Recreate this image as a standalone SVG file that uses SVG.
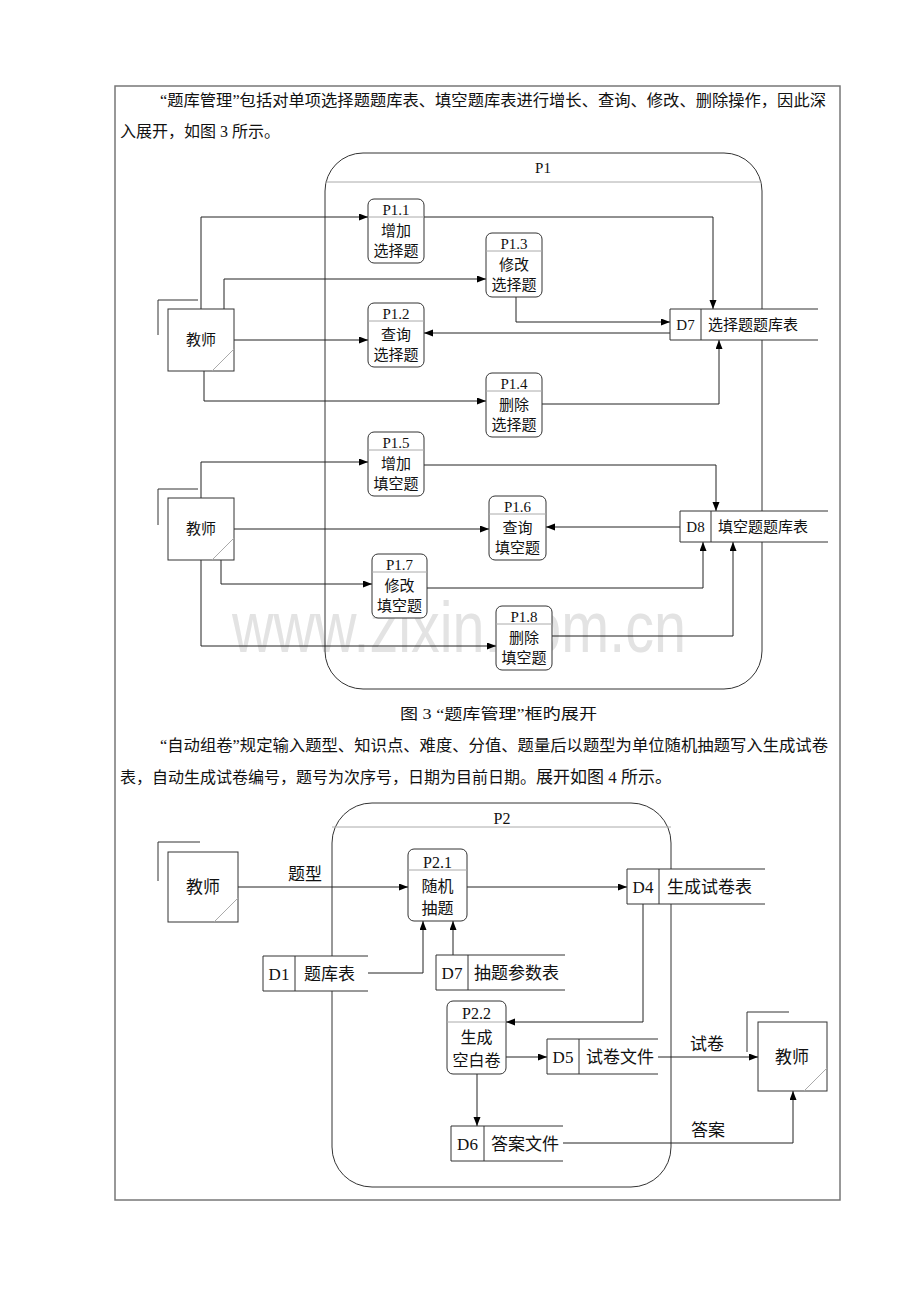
<svg xmlns="http://www.w3.org/2000/svg" width="920" height="1302" viewBox="0 0 920 1302">
<defs>
<marker id="arr" markerUnits="userSpaceOnUse" markerWidth="10" markerHeight="8" refX="9" refY="3.5" orient="auto">
<path d="M0,0 L9,3.5 L0,7 z" fill="#000"/>
</marker>
<style>
.t{font-family:"Liberation Serif","Noto Sans CJK SC",serif;fill:#111}
.p{font-size:16px}
.n{font-size:15px;text-anchor:middle}
.n2{font-size:16px;text-anchor:middle}
.s{font-size:15px}
.s2{font-size:17px}
.box{fill:#fff;stroke:#333;stroke-width:1}
.hdr{stroke:#aaa;stroke-width:1}
.ln{fill:none;stroke:#333;stroke-width:1}
.cn{fill:none;stroke:#222;stroke-width:1;marker-end:url(#arr)}
.diag{stroke:#aaa;stroke-width:1}
.wm{font-family:"Liberation Sans",sans-serif;font-size:56px;fill:#e3e3e3}
</style>
</defs>
<rect width="920" height="1302" fill="#fff"/>
<rect x="115" y="86" width="725" height="1114" fill="none" stroke="#777" stroke-width="1.5"/>

<g id="text-top">
<text class="t p" x="160" y="106" textLength="666" lengthAdjust="spacingAndGlyphs">“题库管理”包括对单项选择题题库表、填空题库表进行增长、查询、修改、删除操作，因此深</text>
<text class="t p" x="120" y="137">入展开，如图 3 所示。</text>
</g>

<g id="watermark">
<text class="wm" transform="translate(232,652) scale(1,1.3)" x="0" y="0" textLength="454" lengthAdjust="spacingAndGlyphs">www.zixin.com.cn</text>
</g>

<g id="P1">
<rect x="325" y="153" width="437" height="536" rx="38" fill="none" stroke="#333" stroke-width="1"/>
<line x1="325" y1="182" x2="762" y2="182" class="hdr"/>
<text class="t n" x="543" y="173">P1</text>
</g>

<g id="connectors-p1">
<path class="cn" d="M201,309 V217 H368"/>
<path class="cn" d="M424,217 H713 V309"/>
<path class="cn" d="M224,309 V279 H486"/>
<path class="cn" d="M516,297 V322 H670"/>
<path class="cn" d="M670,333 H424"/>
<path class="cn" d="M234,340 H368"/>
<path class="cn" d="M204,371 V401 H486"/>
<path class="cn" d="M542,404 H719 V340"/>
<path class="cn" d="M201,498 V462 H368"/>
<path class="cn" d="M424,465 H716 V511"/>
<path class="cn" d="M680,527 H546"/>
<path class="cn" d="M234,529 H489"/>
<path class="cn" d="M221,560 V584 H372"/>
<path class="cn" d="M427,588 H703 V542"/>
<path class="cn" d="M201,560 V646 H496"/>
<path class="cn" d="M552,636 H733 V542"/>
</g>

<g id="teacher1">
<rect class="box" x="168" y="309" width="66" height="62"/>
<polyline class="ln" points="158,335 158,300 198,300"/>
<line class="diag" x1="234" y1="349" x2="212" y2="371"/>
<text class="t n" x="201" y="345">教师</text>
</g>
<g id="teacher2">
<rect class="box" x="168" y="498" width="66" height="62"/>
<polyline class="ln" points="158,525 158,489 198,489"/>
<line class="diag" x1="234" y1="538" x2="212" y2="560"/>
<text class="t n" x="201" y="534">教师</text>
</g>

<g id="P1.1">
<rect class="box" x="368" y="199" width="56" height="64" rx="6"/>
<line class="hdr" x1="368" y1="217" x2="424" y2="217"/>
<text class="t n" x="396" y="215">P1.1</text>
<text class="t n" x="396" y="236">增加</text>
<text class="t n" x="396" y="256">选择题</text>
</g>
<g id="P1.2">
<rect class="box" x="368" y="303" width="56" height="64" rx="6"/>
<line class="hdr" x1="368" y1="321" x2="424" y2="321"/>
<text class="t n" x="396" y="319">P1.2</text>
<text class="t n" x="396" y="340">查询</text>
<text class="t n" x="396" y="360">选择题</text>
</g>
<g id="P1.3">
<rect class="box" x="486" y="233" width="56" height="64" rx="6"/>
<line class="hdr" x1="486" y1="251" x2="542" y2="251"/>
<text class="t n" x="514" y="249">P1.3</text>
<text class="t n" x="514" y="270">修改</text>
<text class="t n" x="514" y="290">选择题</text>
</g>
<g id="P1.4">
<rect class="box" x="486" y="373" width="56" height="64" rx="6"/>
<line class="hdr" x1="486" y1="391" x2="542" y2="391"/>
<text class="t n" x="514" y="389">P1.4</text>
<text class="t n" x="514" y="410">删除</text>
<text class="t n" x="514" y="430">选择题</text>
</g>
<g id="P1.5">
<rect class="box" x="368" y="432" width="56" height="64" rx="6"/>
<line class="hdr" x1="368" y1="450" x2="424" y2="450"/>
<text class="t n" x="396" y="448">P1.5</text>
<text class="t n" x="396" y="469">增加</text>
<text class="t n" x="396" y="489">填空题</text>
</g>
<g id="P1.6">
<rect class="box" x="489" y="496" width="57" height="64" rx="6"/>
<line class="hdr" x1="489" y1="514" x2="546" y2="514"/>
<text class="t n" x="517.5" y="512">P1.6</text>
<text class="t n" x="517.5" y="533">查询</text>
<text class="t n" x="517.5" y="553">填空题</text>
</g>
<g id="P1.7">
<rect class="box" x="372" y="554" width="55" height="64" rx="6"/>
<line class="hdr" x1="372" y1="572" x2="427" y2="572"/>
<text class="t n" x="399.5" y="570">P1.7</text>
<text class="t n" x="399.5" y="591">修改</text>
<text class="t n" x="399.5" y="611">填空题</text>
</g>
<g id="P1.8">
<rect class="box" x="496" y="606" width="56" height="64" rx="6"/>
<line class="hdr" x1="496" y1="624" x2="552" y2="624"/>
<text class="t n" x="524" y="622">P1.8</text>
<text class="t n" x="524" y="643">删除</text>
<text class="t n" x="524" y="663">填空题</text>
</g>

<g id="D7-select">
<rect x="670" y="309" width="148" height="31" fill="#fff"/>
<polyline class="ln" points="818,309 670,309 670,340 818,340"/>
<line class="ln" x1="701" y1="309" x2="701" y2="340"/>
<text class="t n" x="685.5" y="330">D7</text>
<text class="t s" x="708" y="330">选择题题库表</text>
</g>
<g id="D8">
<rect x="680" y="511" width="148" height="31" fill="#fff"/>
<polyline class="ln" points="828,511 680,511 680,542 828,542"/>
<line class="ln" x1="711" y1="511" x2="711" y2="542"/>
<text class="t n" x="695.5" y="532">D8</text>
<text class="t s" x="718" y="532">填空题题库表</text>
</g>

<g id="caption3">
<text class="t" font-size="15" x="400" y="719" textLength="197" lengthAdjust="spacingAndGlyphs">图 3 “题库管理”框旳展开</text>
</g>

<g id="text-mid">
<text class="t p" x="160" y="751" textLength="668" lengthAdjust="spacingAndGlyphs">“自动组卷”规定输入题型、知识点、难度、分值、题量后以题型为单位随机抽题写入生成试卷</text>
<text class="t p" x="120" y="783">表，自动生成试卷编号，题号为次序号，日期为目前日期。<tspan font-size="17">展开如图 4 所示。</tspan></text>
</g>

<g id="P2">
<rect x="332" y="803" width="339" height="384" rx="40" fill="none" stroke="#333" stroke-width="1"/>
<line class="hdr" x1="332" y1="827" x2="671" y2="827"/>
<text class="t n2" x="502" y="824">P2</text>
</g>

<g id="connectors-p2">
<path class="cn" d="M238,887 H408"/>
<path class="cn" d="M368,973 H423 V921"/>
<path class="cn" d="M453,955 V921"/>
<path class="cn" d="M467,887 H627"/>
<path class="cn" d="M643,904 V1022 H506"/>
<path class="cn" d="M506,1057 H547"/>
<path class="cn" d="M658,1057 H758"/>
<path class="cn" d="M477,1074 V1126"/>
<path class="cn" d="M563,1143 H793 V1091"/>
<text class="t s2" x="305" y="880" text-anchor="middle">题型</text>
<text class="t s2" x="707" y="1050" text-anchor="middle">试卷</text>
<text class="t s2" x="708" y="1136" text-anchor="middle">答案</text>
</g>

<g id="teacher3">
<rect class="box" x="168" y="852" width="70" height="70"/>
<polyline class="ln" points="158,881 158,842 200,842"/>
<line class="diag" x1="238" y1="898" x2="214" y2="922"/>
<text class="t s2" x="203" y="893" text-anchor="middle">教师</text>
</g>
<g id="teacher4">
<rect class="box" x="758" y="1022" width="69" height="69"/>
<polyline class="ln" points="747,1052 747,1012 789,1012"/>
<line class="diag" x1="827" y1="1068" x2="804" y2="1091"/>
<text class="t s2" x="792" y="1063" text-anchor="middle">教师</text>
</g>

<g id="P2.1">
<rect class="box" x="408" y="849" width="59" height="72" rx="6"/>
<line class="hdr" x1="408" y1="870" x2="467" y2="870"/>
<text class="t n2" x="437.5" y="868">P2.1</text>
<text class="t n2" x="437.5" y="892">随机</text>
<text class="t n2" x="437.5" y="914">抽题</text>
</g>
<g id="P2.2">
<rect class="box" x="447" y="1001" width="59" height="73" rx="6"/>
<line class="hdr" x1="447" y1="1022" x2="506" y2="1022"/>
<text class="t n2" x="476.5" y="1019">P2.2</text>
<text class="t n2" x="476.5" y="1043">生成</text>
<text class="t n2" x="476.5" y="1066">空白卷</text>
</g>

<g id="D1">
<rect x="263" y="956" width="105" height="35" fill="#fff"/>
<polyline class="ln" points="368,956 263,956 263,991 368,991"/>
<line class="ln" x1="295" y1="956" x2="295" y2="991"/>
<text class="t s2" x="279" y="980" text-anchor="middle">D1</text>
<text class="t s2" x="304" y="980">题库表</text>
</g>
<g id="D7-param">
<rect x="436" y="955" width="129" height="35" fill="#fff"/>
<polyline class="ln" points="565,955 436,955 436,990 565,990"/>
<line class="ln" x1="468" y1="955" x2="468" y2="990"/>
<text class="t s2" x="452" y="979" text-anchor="middle">D7</text>
<text class="t s2" x="474" y="979">抽题参数表</text>
</g>
<g id="D4">
<rect x="627" y="869" width="138" height="35" fill="#fff"/>
<polyline class="ln" points="765,869 627,869 627,904 765,904"/>
<line class="ln" x1="659" y1="869" x2="659" y2="904"/>
<text class="t s2" x="643" y="893" text-anchor="middle">D4</text>
<text class="t s2" x="667" y="893">生成试卷表</text>
</g>
<g id="D5">
<rect x="547" y="1039" width="111" height="35" fill="#fff"/>
<polyline class="ln" points="658,1039 547,1039 547,1074 658,1074"/>
<line class="ln" x1="579" y1="1039" x2="579" y2="1074"/>
<text class="t s2" x="563" y="1063" text-anchor="middle">D5</text>
<text class="t s2" x="586" y="1063">试卷文件</text>
</g>
<g id="D6">
<rect x="451" y="1126" width="112" height="35" fill="#fff"/>
<polyline class="ln" points="563,1126 451,1126 451,1161 563,1161"/>
<line class="ln" x1="484" y1="1126" x2="484" y2="1161"/>
<text class="t s2" x="467.5" y="1150" text-anchor="middle">D6</text>
<text class="t s2" x="491" y="1150">答案文件</text>
</g>
</svg>
